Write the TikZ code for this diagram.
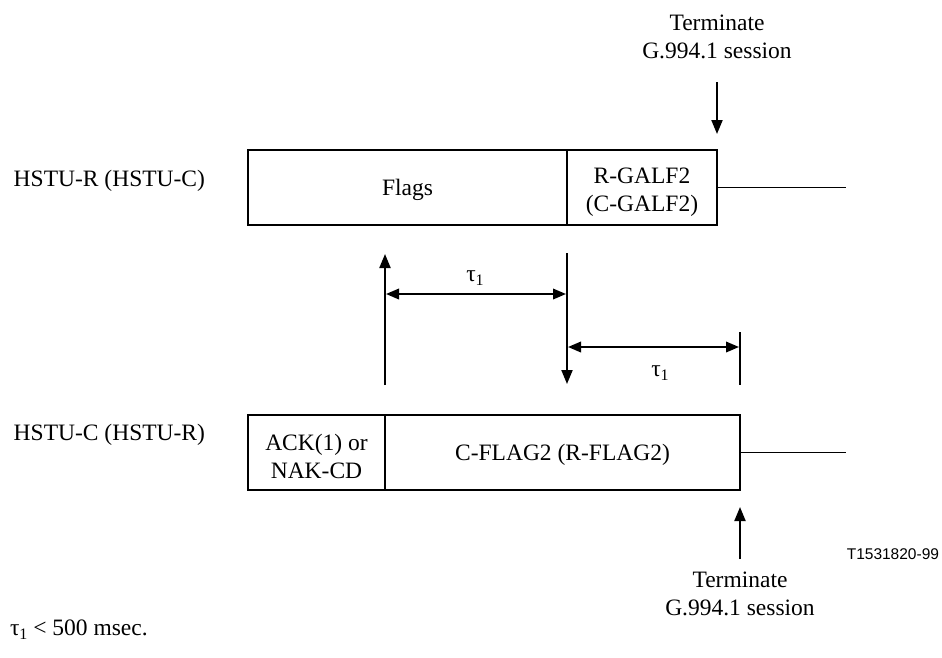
\documentclass[tikz,border=0pt]{standalone}
\usepackage{fontspec}
\setmainfont{Liberation Serif}
\newfontfamily\arialfont{Liberation Sans}
\usetikzlibrary{arrows.meta}
\newcommand{\tauone}{τ\raisebox{-4pt}{\fontsize{16}{16}\selectfont 1}}
\begin{document}
\begin{tikzpicture}[x=1pt,y=-1pt,
  every node/.style={font=\fontsize{23.5}{28}\selectfont, inner sep=0pt, outer sep=0pt},
  cell/.style={draw, line width=1.5pt, minimum height=75pt, anchor=north west},
  boxline/.style={line width=1.8pt},
  arr/.style={line width=2pt, -{Triangle[length=14pt,width=11pt]}},
  dbl/.style={line width=2pt, {Triangle[length=13pt,width=10.5pt]}-{Triangle[length=13pt,width=10.5pt]}},
  plain/.style={line width=2pt}
]
\useasboundingbox (0,0) rectangle (942,657);

% top signal
\node[cell, minimum width=319pt, text depth=0pt] (flags) at (248,150) {Flags};
\node[cell, minimum width=150pt] (galf) at (567,150) {};
\node[align=center] (galft) at (642,192) {R-GALF2\\(C-GALF2)};
\node[anchor=base east] (hr) at (205,186) {HSTU-R (HSTU-C)};
\coordinate (tr) at (846,187.5);
\draw[boxline] (galf.east) -- (tr);

% bottom signal
\node[cell, minimum width=137pt] (ack) at (248,415) {};
\node[align=center] (ackt) at (316.5,456) {ACK(1) or\\NAK-CD};
\node[cell, minimum width=355pt, text depth=0pt] (cflag) at (385,415) {C-FLAG2 (R-FLAG2)};
\node[anchor=base east] (hc) at (205,440) {HSTU-C (HSTU-R)};
\coordinate (br) at (846,452.5);
\draw[boxline] (cflag.east) -- (br);

% terminate labels
\node[align=center] (term1) at (717,37) {Terminate\\G.994.1 session};
\coordinate (a1s) at (717,82);
\coordinate (a1e) at (717,134);
\draw[arr] (a1s) -- (a1e);

\node[align=center] (term2) at (740,594) {Terminate\\G.994.1 session};
\coordinate (a2s) at (740,559);
\coordinate (a2e) at (740,507);
\draw[arr] (a2s) -- (a2e);

% timing
\coordinate (upS) at (385,385);
\coordinate (upE) at (385,254);
\draw[arr] (upS) -- (upE);
\coordinate (dnS) at (567,253);
\coordinate (dnE) at (567,384);
\draw[arr] (dnS) -- (dnE);
\coordinate (vtop) at (740,332);
\coordinate (vbot) at (740,385);
\draw[plain] (vtop) -- (vbot);

\coordinate (d1a) at (386,294);
\coordinate (d1b) at (566,294);
\draw[dbl] (d1a) -- (d1b);
\coordinate (d2a) at (568,347);
\coordinate (d2b) at (739,347);
\draw[dbl] (d2a) -- (d2b);

\node (tau1) at (475,278) {\tauone};
\node (tau2) at (660,373) {\tauone};

% figure code and note
\node[font=\arialfont\fontsize{15.5}{18}\selectfont, anchor=base east] (code) at (939,559) {T1531820-99};
\node[anchor=base west] (note) at (10,635) {\tauone{} < 500 msec.};
\end{tikzpicture}
\end{document}
